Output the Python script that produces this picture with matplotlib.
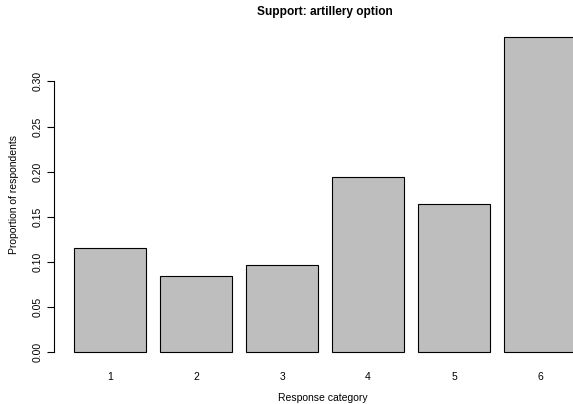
import matplotlib
matplotlib.use('Agg')
import matplotlib.pyplot as plt
import numpy as np

# 数据
categories = ['1', '2', '3', '4', '5', '6']
proportions = [0.115, 0.084, 0.097, 0.194, 0.164, 0.349]
yticks = [0.00, 0.05, 0.10, 0.15, 0.20, 0.25, 0.30]

plt.rcParams['font.family'] = ['Liberation Sans', 'DejaVu Sans']

W, H = 573, 404
fig = plt.figure(figsize=(W / 100, H / 100), dpi=100)

# R barplot 风格: width=1, space=0.2, 区域扩展 4% (右侧被裁掉)
left_px, right_px, top_px, bottom_px = 54.2, 596.0, 24.5, 364.9
ax = fig.add_axes([left_px / W, 1 - bottom_px / H,
                   (right_px - left_px) / W, (bottom_px - top_px) / H])

x = 0.2 + np.arange(len(categories)) * 1.2 + 0.5
ax.bar(x, proportions, width=1.0, color='#bebebe', edgecolor='black', linewidth=0.8)

ymax = max(proportions)
ax.set_xlim(-0.08, 7.48)
ax.set_ylim(-0.04 * ymax, 1.04 * ymax)

ax.set_xticks(x)
ax.set_xticklabels(categories, fontsize=7.5)
ax.tick_params(axis='x', length=0, pad=5)

ax.set_yticks(yticks)
ax.set_yticklabels([f'{v:.2f}' for v in yticks], rotation=90, va='center', fontsize=7.5)
ax.tick_params(axis='y', length=5, width=0.8, pad=3)

for s in ['top', 'right', 'bottom']:
    ax.spines[s].set_visible(False)
ax.spines['left'].set_bounds(0, 0.30)
ax.spines['left'].set_linewidth(0.8)

fig.text(325 / W, 1 - 12 / H, 'Support: artillery option', ha='center', va='center',
         fontsize=8.6, fontweight='bold')
fig.text(323 / W, 1 - 398 / H, 'Response category', ha='center', va='center', fontsize=7.5)
fig.text(14 / W, 1 - 195 / H, 'Proportion of respondents', ha='center', va='center',
         rotation=90, fontsize=7.5)

fig.savefig('out.png', dpi=100)
